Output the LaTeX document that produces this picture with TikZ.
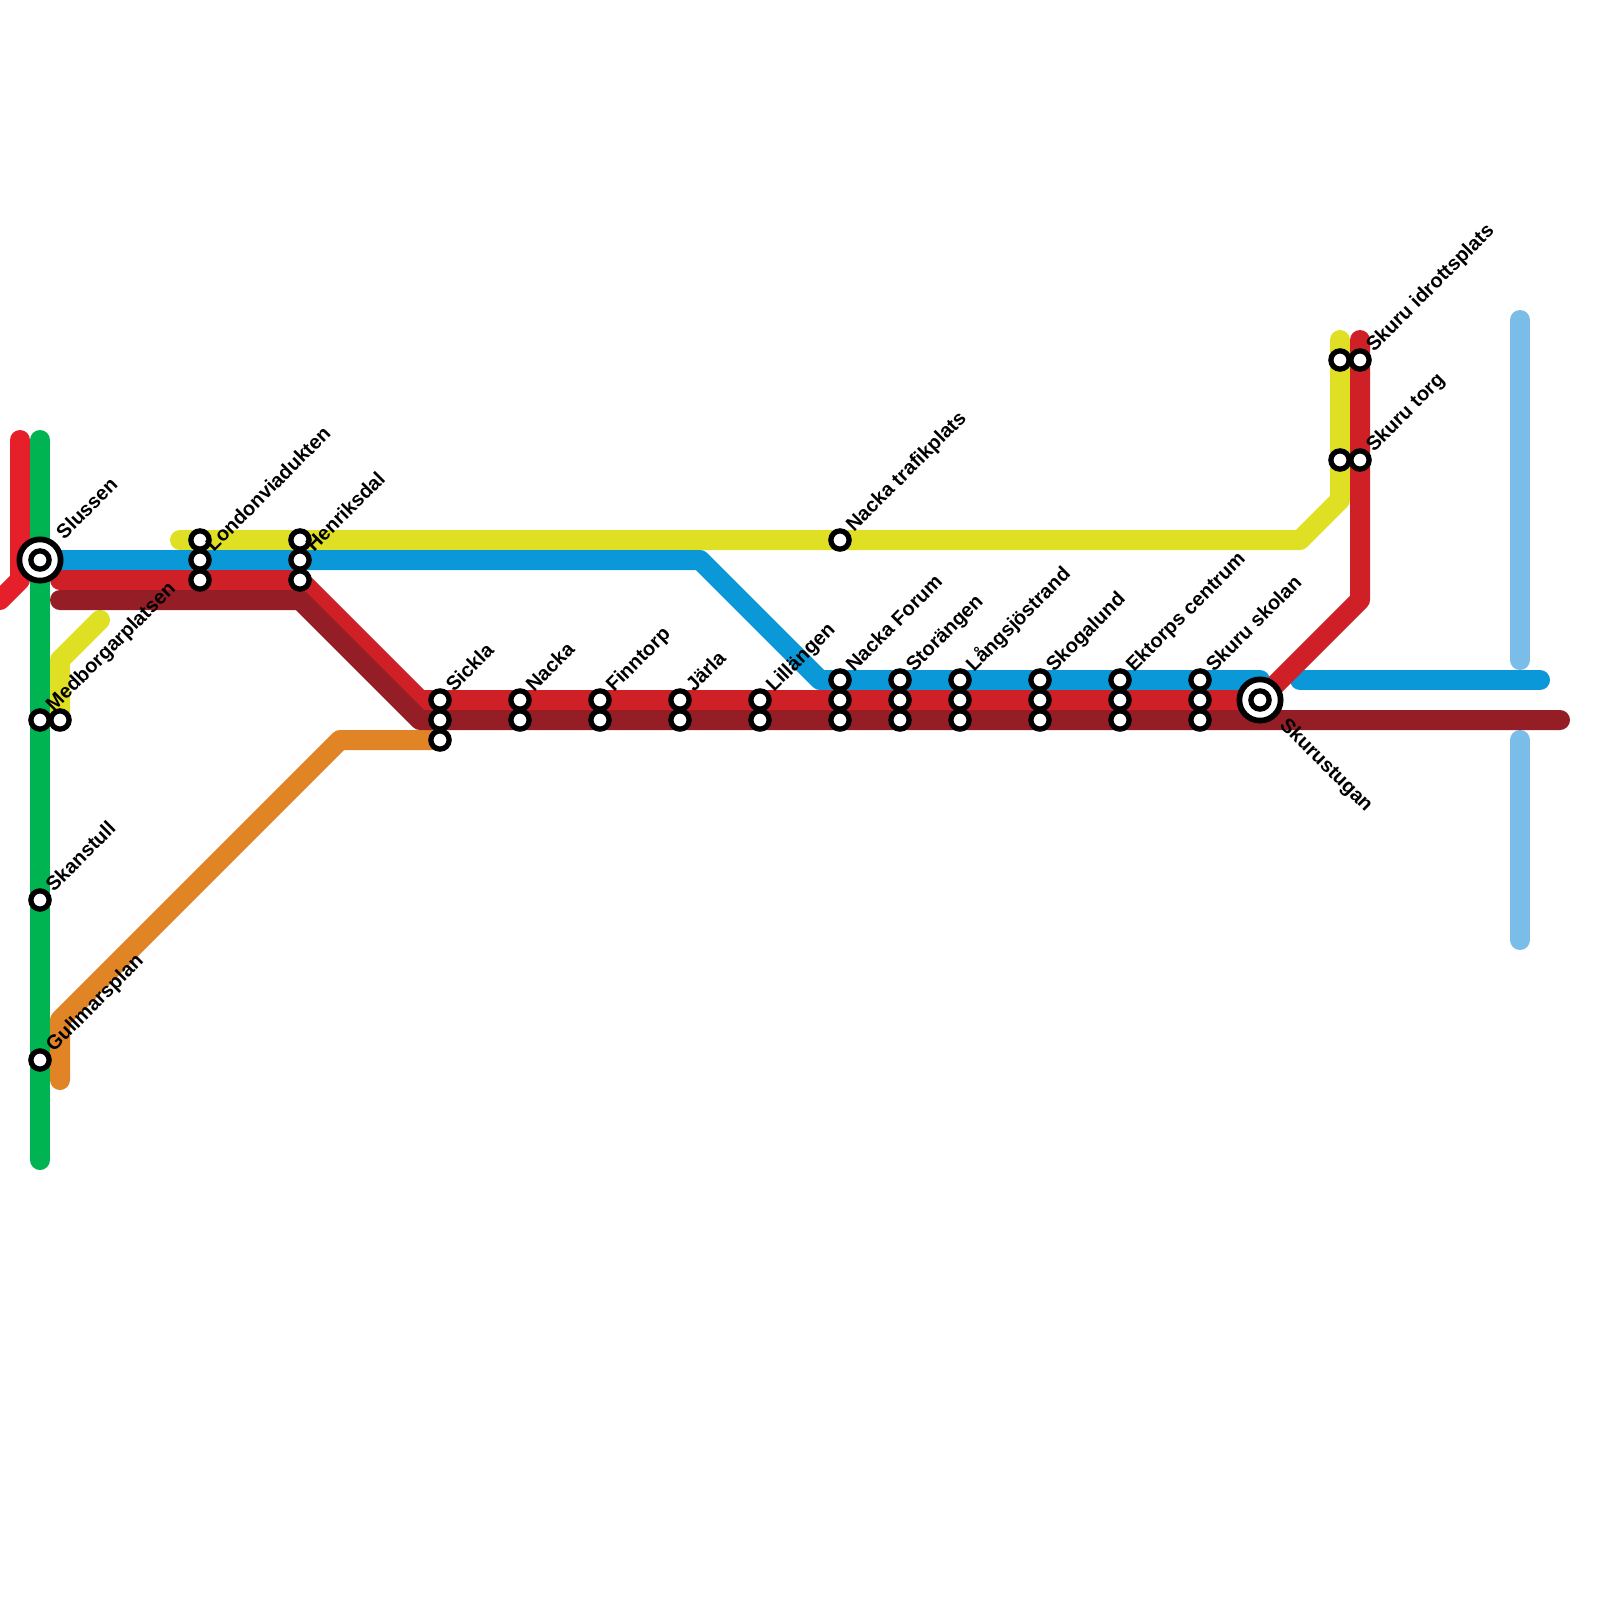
\documentclass[tikz,border=0pt]{standalone}
\usepackage{fontspec}
\setmainfont{Liberation Sans}
\usetikzlibrary{backgrounds}
\definecolor{greenline}{HTML}{00B451}
\definecolor{brightred}{HTML}{E6202B}
\definecolor{redline}{HTML}{CF2027}
\definecolor{darkred}{HTML}{951E26}
\definecolor{blueline}{HTML}{0A98D8}
\definecolor{yellowline}{HTML}{DFE024}
\definecolor{orangeline}{HTML}{E08425}
\definecolor{paleblue}{HTML}{7ABDE9}
\tikzset{
    x=0.25cm,y=-0.25cm,
    route/.style = {line width=0.25cm, line cap=round, line join=round},
    stn/.style = {circle, draw=black, fill=white, line width=0.066cm, inner sep=0pt, outer sep=0pt, minimum size=0.228cm},
    hub/.style = {circle, draw=black, fill=white, line width=0.072cm, inner sep=0pt, outer sep=0pt, minimum size=0.516cm},
    lbl/.style = {font=\fontsize{7.11pt}{8pt}\selectfont\bfseries, inner sep=0pt, anchor=base west, xshift=0.17cm, yshift=0.0875cm, rotate=45}
}
\begin{document}
\begin{tikzpicture}
    \useasboundingbox (0,0) rectangle (80,80);

    %%Nodes
    \node[hub] (slussen) at (2,28) {};
    \node[stn] (slussen-in) at (slussen) {};
    \node[stn] (medb-g) at (2,36) {};
    \node[stn] (medb-y) at (3,36) {};
    \node[stn] (skanstull) at (2,45) {};
    \node[stn] (gullmar) at (2,53) {};

    \node[stn] (london-y) at (10,27) {};
    \node[stn] (london-b) at (10,28) {};
    \node[stn] (london-r) at (10,29) {};
    \node[stn] (henrik-y) at (15,27) {};
    \node[stn] (henrik-b) at (15,28) {};
    \node[stn] (henrik-r) at (15,29) {};

    \node[stn] (sickla-r) at (22,35) {};
    \node[stn] (sickla-d) at (22,36) {};
    \node[stn] (sickla-o) at (22,37) {};
    \node[stn] (nacka-r) at (26,35) {};
    \node[stn] (nacka-d) at (26,36) {};
    \node[stn] (finn-r) at (30,35) {};
    \node[stn] (finn-d) at (30,36) {};
    \node[stn] (jarla-r) at (34,35) {};
    \node[stn] (jarla-d) at (34,36) {};
    \node[stn] (lill-r) at (38,35) {};
    \node[stn] (lill-d) at (38,36) {};

    \node[stn] (trafik) at (42,27) {};
    \node[stn] (forum-b) at (42,34) {};
    \node[stn] (forum-r) at (42,35) {};
    \node[stn] (forum-d) at (42,36) {};
    \node[stn] (stor-b) at (45,34) {};
    \node[stn] (stor-r) at (45,35) {};
    \node[stn] (stor-d) at (45,36) {};
    \node[stn] (lang-b) at (48,34) {};
    \node[stn] (lang-r) at (48,35) {};
    \node[stn] (lang-d) at (48,36) {};
    \node[stn] (skoga-b) at (52,34) {};
    \node[stn] (skoga-r) at (52,35) {};
    \node[stn] (skoga-d) at (52,36) {};
    \node[stn] (ektorp-b) at (56,34) {};
    \node[stn] (ektorp-r) at (56,35) {};
    \node[stn] (ektorp-d) at (56,36) {};
    \node[stn] (skolan-b) at (60,34) {};
    \node[stn] (skolan-r) at (60,35) {};
    \node[stn] (skolan-d) at (60,36) {};

    \node[hub] (stugan) at (63,35) {};
    \node[stn] (stugan-in) at (stugan) {};

    \node[stn] (idrott-y) at (67,18) {};
    \node[stn] (idrott-r) at (68,18) {};
    \node[stn] (torg-y) at (67,23) {};
    \node[stn] (torg-r) at (68,23) {};

    %%Bends and free ends
    \coordinate (rb1) at (1,22);
    \coordinate (rb2) at (1,29);
    \coordinate (rb3) at (0,30);
    \coordinate (g1) at (2,22);
    \coordinate (g2) at (2,58);
    \coordinate (y1) at (9,27);
    \coordinate (y2) at (65,27);
    \coordinate (y3) at (67,25);
    \coordinate (y4) at (67,17);
    \coordinate (ys1) at (5,31);
    \coordinate (ys2) at (3,33);
    \coordinate (b1) at (35,28);
    \coordinate (b2) at (41,34);
    \coordinate (b3) at (63,34);
    \coordinate (b4) at (65,34);
    \coordinate (b5) at (77,34);
    \coordinate (r1) at (3,29);
    \coordinate (r2) at (21,35);
    \coordinate (r3) at (68,30);
    \coordinate (r4) at (68,17);
    \coordinate (d1) at (3,30);
    \coordinate (d2) at (15,30);
    \coordinate (d3) at (21,36);
    \coordinate (d4) at (78,36);
    \coordinate (o1) at (17,37);
    \coordinate (o2) at (3,51);
    \coordinate (o3) at (3,54);
    \coordinate (p1) at (76,16);
    \coordinate (p2) at (76,33);
    \coordinate (p3) at (76,37);
    \coordinate (p4) at (76,47);

    % Lines
    \begin{scope}[on background layer]
    \draw[route, brightred] (rb1) -- (rb2) -- (rb3);
    \draw[route, paleblue] (p1) -- (p2);
    \draw[route, paleblue] (p3) -- (p4);
    \draw[route, yellowline] (y1) -- (london-y.center) -- (henrik-y.center) -- (trafik.center) -- (y2) -- (y3) -- (torg-y.center) -- (idrott-y.center) -- (y4);
    \draw[route, yellowline] (ys1) -- (ys2) -- (medb-y.center);
    \draw[route, orangeline] (sickla-o.center) -- (o1) -- (o2) -- (o3);
    \draw[route, blueline] (slussen.center) -- (london-b.center) -- (henrik-b.center) -- (b1) -- (b2) -- (forum-b.center) -- (stor-b.center) -- (lang-b.center) -- (skoga-b.center) -- (ektorp-b.center) -- (skolan-b.center) -- (b3);
    \draw[route, blueline] (b4) -- (b5);
    \draw[route, redline] (r1) -- (london-r.center) -- (henrik-r.center) -- (r2) -- (sickla-r.center) -- (stugan.center) -- (r3) -- (torg-r.center) -- (idrott-r.center) -- (r4);
    \draw[route, darkred] (d1) -- (d2) -- (d3) -- (sickla-d.center) -- (skolan-d.center) -- (d4);
    \draw[route, greenline] (g1) -- (slussen.center) -- (medb-g.center) -- (skanstull.center) -- (gullmar.center) -- (g2);
    \end{scope}

    %%Labels
    \node[lbl, xshift=0.203cm, yshift=0.018cm] (l-slussen) at (slussen) {Slussen};
    \node[lbl] (l-medb) at (medb-g) {Medborgarplatsen};
    \node[lbl] (l-skanstull) at (skanstull) {Skanstull};
    \node[lbl] (l-gullmar) at (gullmar) {Gullmarsplan};
    \node[lbl] (l-london) at (london-b) {Londonviadukten};
    \node[lbl] (l-henrik) at (henrik-b) {Henriksdal};
    \node[lbl] (l-sickla) at (sickla-r) {Sickla};
    \node[lbl] (l-nacka) at (nacka-r) {Nacka};
    \node[lbl] (l-finn) at (finn-r) {Finntorp};
    \node[lbl] (l-jarla) at (jarla-r) {Järla};
    \node[lbl] (l-lill) at (lill-r) {Lillängen};
    \node[lbl] (l-trafik) at (trafik) {Nacka trafikplats};
    \node[lbl] (l-forum) at (forum-b) {Nacka Forum};
    \node[lbl] (l-stor) at (stor-b) {Storängen};
    \node[lbl] (l-lang) at (lang-b) {Långsjöstrand};
    \node[lbl] (l-skoga) at (skoga-b) {Skogalund};
    \node[lbl] (l-ektorp) at (ektorp-b) {Ektorps centrum};
    \node[lbl] (l-skolan) at (skolan-b) {Skuru skolan};
    \node[lbl, xshift=-0.245cm, yshift=-0.333cm, rotate=-90] (l-stugan) at (stugan) {Skurustugan};
    \node[lbl] (l-idrott) at (idrott-r) {Skuru idrottsplats};
    \node[lbl] (l-torg) at (torg-r) {Skuru torg};
\end{tikzpicture}
\end{document}
